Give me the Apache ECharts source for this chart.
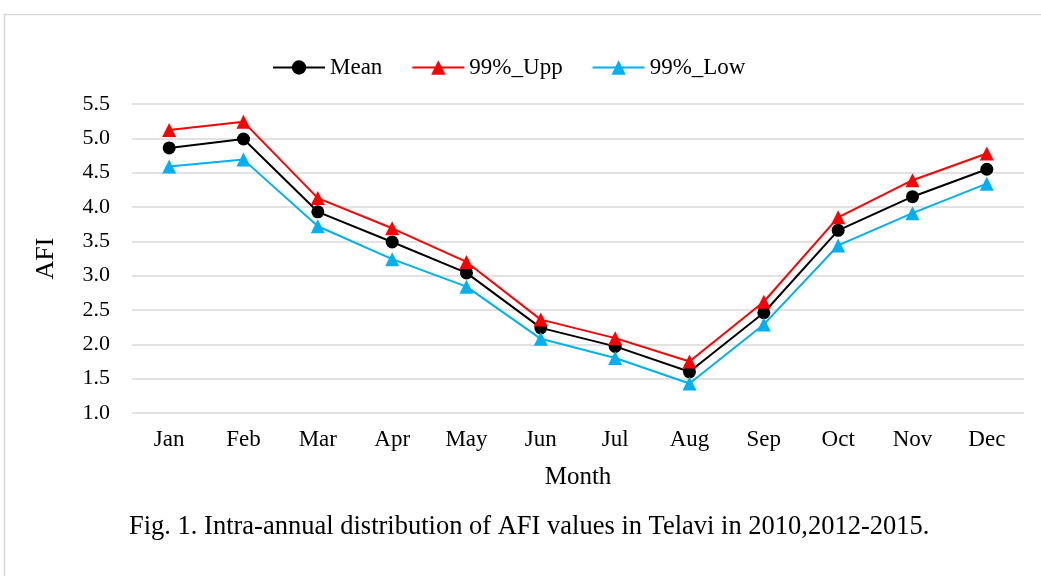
<!DOCTYPE html>
<html>
<head>
<meta charset="utf-8">
<script src="https://cdn.jsdelivr.net/npm/echarts@6/dist/echarts.min.js"></script>
<style>
  html, body { margin: 0; padding: 0; background: #fff; }
  #chart { width: 1041px; height: 576px; }
</style>
</head>
<body>
<div id="chart"></div>
<script>
const months = ['Jan', 'Feb', 'Mar', 'Apr', 'May', 'Jun', 'Jul', 'Aug', 'Sep', 'Oct', 'Nov', 'Dec'];
const meanValues = [4.86, 4.99, 3.93, 3.49, 3.04, 2.24, 1.97, 1.60, 2.46, 3.66, 4.15, 4.55];
const uppValues = [5.12, 5.24, 4.13, 3.69, 3.20, 2.36, 2.09, 1.75, 2.62, 3.85, 4.39, 4.78];
const lowValues = [4.59, 4.69, 3.72, 3.24, 2.84, 2.08, 1.80, 1.43, 2.29, 3.44, 3.91, 4.34];
const caption = 'Fig. 1. Intra-annual distribution of AFI values in Telavi in 2010,2012-2015.';

const font = 'Liberation Serif';
const chart = echarts.init(document.getElementById('chart'));

const lineSeries = (name, data, color, symbol, size) => ({
    name: name,
    type: 'line',
    data: data,
    symbol: symbol,
    symbolSize: size,
    showAllSymbol: true,
    lineStyle: { color: color, width: 2 },
    itemStyle: { color: color },
    emphasis: { disabled: true },
    z: 3
});

chart.setOption({
    animation: false,
    textStyle: { fontFamily: font, color: '#000' },
    legend: {
        left: 267,
        top: 51,
        itemWidth: 52,
        itemHeight: 18,
        itemGap: 29,
        textStyle: { fontFamily: font, fontSize: 23, color: '#000' },
        data: ['Mean', '99%_Upp', '99%_Low']
    },
    grid: { left: 132, right: 17, top: 104, bottom: 163 },
    xAxis: {
        type: 'category',
        data: months,
        boundaryGap: true,
        axisLine: { show: false },
        axisTick: { show: false },
        axisLabel: { fontFamily: font, fontSize: 23, color: '#000', margin: 15 },
        name: 'Month',
        nameLocation: 'middle',
        nameGap: 52,
        nameTextStyle: { fontFamily: font, fontSize: 25, color: '#000' }
    },
    yAxis: {
        type: 'value',
        min: 1,
        max: 5.5,
        interval: 0.5,
        axisLine: { show: false },
        axisTick: { show: false },
        splitLine: { lineStyle: { color: '#d9d9d9', width: 1.5 } },
        axisLabel: {
            fontFamily: font, fontSize: 22, color: '#000', margin: 22,
            formatter: v => v.toFixed(1)
        },
        name: 'AFI',
        nameLocation: 'middle',
        nameGap: 73,
        nameRotate: 90,
        nameTextStyle: { fontFamily: font, fontSize: 26, color: '#000' }
    },
    series: [
        lineSeries('Mean', meanValues, '#000000', 'circle', 13),
        lineSeries('99%_Upp', uppValues, '#ff0000', 'triangle', 14),
        lineSeries('99%_Low', lowValues, '#00b0f0', 'triangle', 14)
    ],
    graphic: [
        {
            type: 'rect',
            shape: { x: 4.5, y: 14.5, width: 1200, height: 700 },
            style: { fill: 'none', stroke: '#d9d9d9', lineWidth: 1.5 },
            silent: true
        },
        {
            type: 'text',
            left: 129,
            top: 514,
            style: { text: caption, fontFamily: font, fontSize: 26.5, fill: '#000' }
        }
    ]
});
</script>
</body>
</html>
